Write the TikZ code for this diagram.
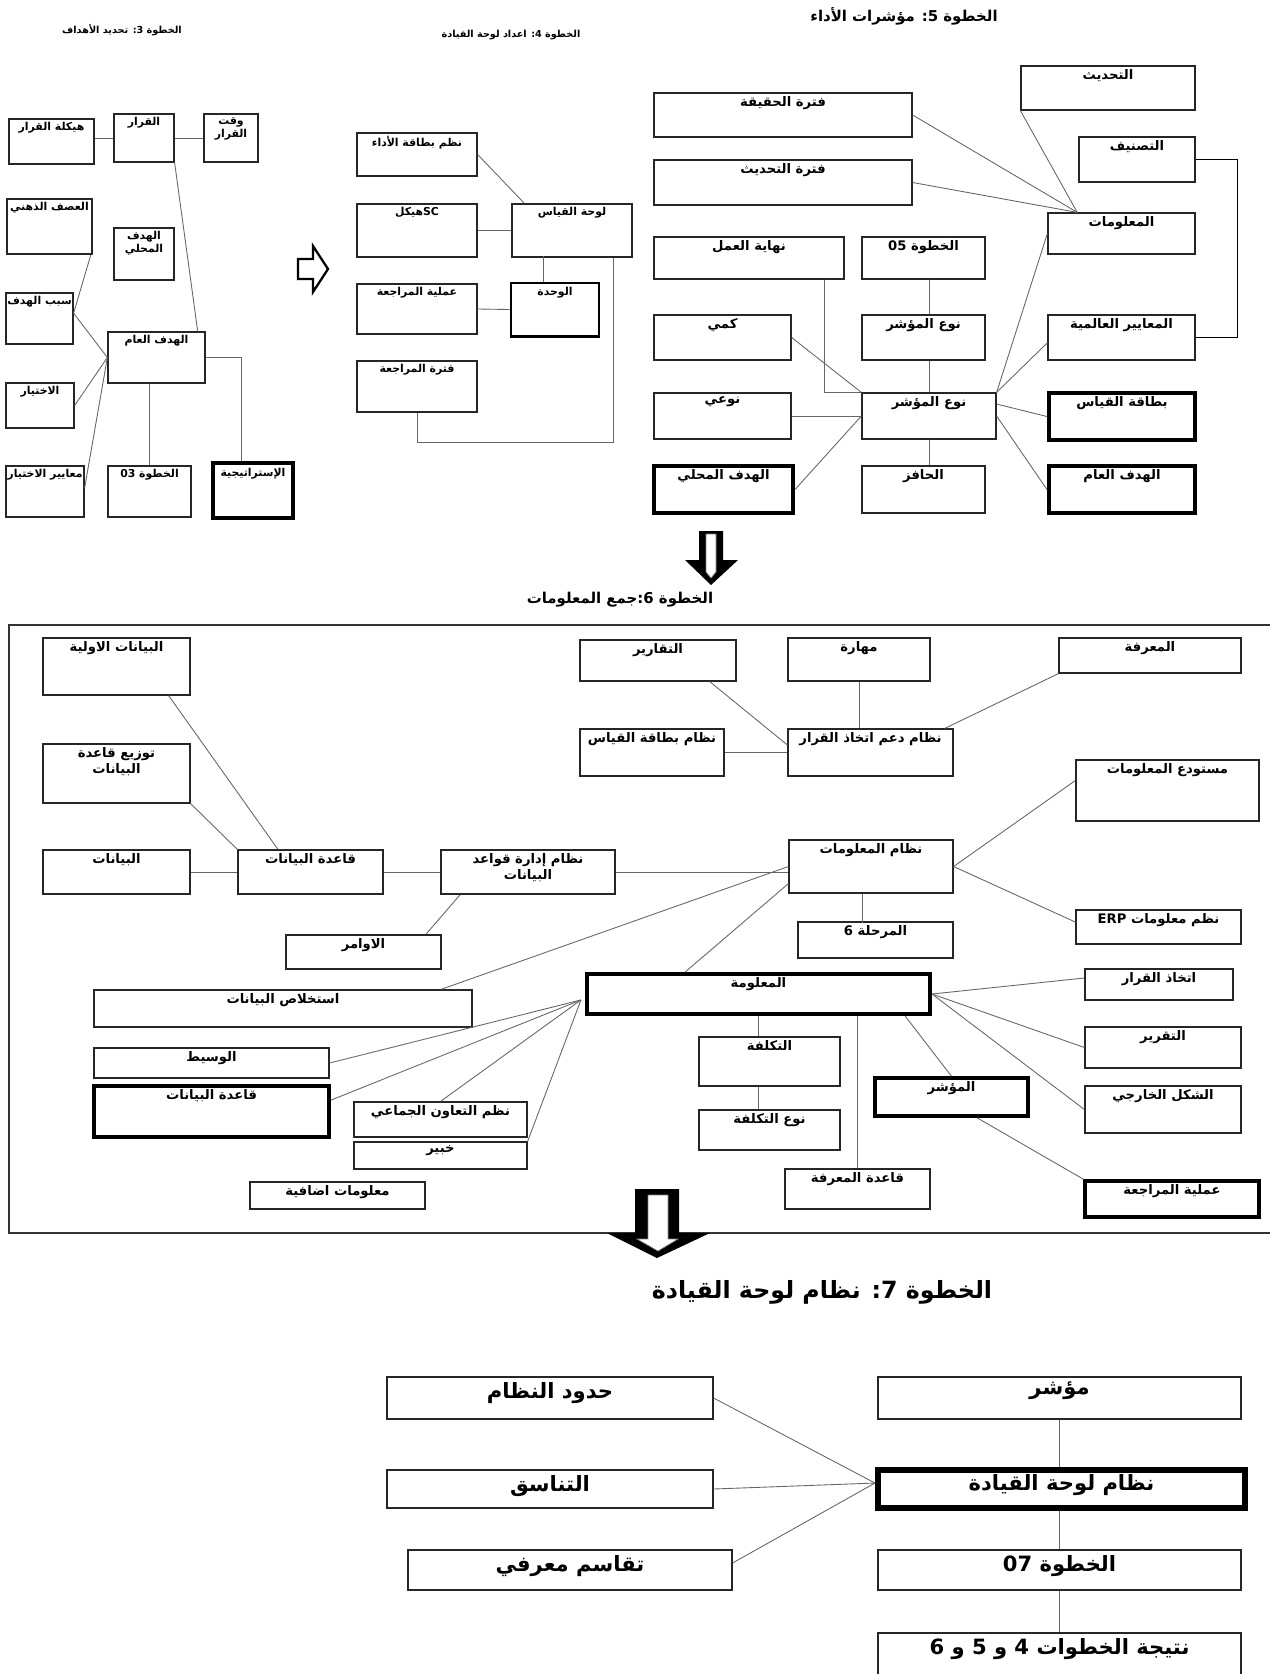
\documentclass[tikz,border=0pt]{standalone}
\usepackage{fontspec}
\newfontfamily\arabicfont[Script=Arabic]{DejaVu Sans}
\TeXXeTstate=1
\usetikzlibrary{fit}
\tikzset{
    box/.style = {draw=black!85, line width=0.7pt, inner sep=0pt},
    heavy/.style = {draw=black, line width=#1, inner sep=0pt},
    lbl/.style = {anchor=north, inner sep=2pt, align=center, font=\arabicfont\bfseries\fontsize{7.5}{9.5}\selectfont},
    lbs/.style = {lbl, font=\arabicfont\bfseries\fontsize{6.2}{7.5}\selectfont},
    lbb/.style = {lbl, inner sep=3pt, font=\arabicfont\bfseries\fontsize{12}{14}\selectfont},
    link/.style = {draw=black!60, line width=0.5pt},
    title/.style = {font=\arabicfont\bfseries\fontsize{#1}{#1}\selectfont},
}
\begin{document}
\begin{tikzpicture}[x=0.02cm, y=-0.02cm]
    \useasboundingbox (0,0) rectangle (1270,1674);

    \node[title=5.5] (t3) at (122,30) {\beginR الخطوة 3: تحديد الأهداف\endR};
    \node[box, fit={(9,119) (94,164)}, label={[lbs]north:{\beginR هيكلة القرار\endR}}] (hq) {};
    \node[box, fit={(114,114) (174,162)}, label={[lbs]north:{\beginR القرار\endR}}] (qr) {};
    \node[box, fit={(204,114) (258,162)}, label={[lbs]north:{\beginR وقت\endR\\\beginR القرار\endR}}] (wq) {};
    \node[box, fit={(7,199) (92,254)}, label={[lbs]north:{\beginR العصف الذهني\endR}}] (ad) {};
    \node[box, fit={(114,228) (174,280)}, label={[lbs]north:{\beginR الهدف\endR\\\beginR المحلي\endR}}] (hm3) {};
    \node[box, fit={(6,293) (73,344)}, label={[lbs]north:{\beginR سبب الهدف\endR}}] (sh) {};
    \node[box, fit={(108,332) (205,383)}, label={[lbs]north:{\beginR الهدف العام\endR}}] (ha3) {};
    \node[box, fit={(6,383) (74,428)}, label={[lbs]north:{\beginR الاختيار\endR}}] (ik) {};
    \node[box, fit={(6,466) (84,517)}, label={[lbs]north:{\beginR معايير الاختيار\endR}}] (mk) {};
    \node[box, fit={(108,466) (191,517)}, label={[lbs]north:{\beginR الخطوة 03\endR}}] (k03) {};
    \node[heavy=2.6pt, fit={(213,463) (293,518)}, label={[lbs, yshift=-2pt]north:{\beginR الإستراتيجية\endR}}] (st) {};

    \draw[link] (hq.east |- qr.west) -- (qr.west);
    \draw[link] (qr.east) -- (wq.west);
    \draw[link] (qr.south east) -- ([xshift=-4.5pt]ha3.north east);
    \draw[link] ([xshift=-1pt]ad.south east) -- ([yshift=3pt]sh.east);
    \draw[link] ([yshift=3pt]sh.east) -- (ha3.west);
    \draw[link] (ik.east) -- (ha3.west);
    \draw[link] ([yshift=2pt]mk.east) -- (ha3.west);
    \draw[link] (ha3.south -| k03.north) -- (k03.north);
    \draw[link] (ha3.east) -| ([xshift=-6.8pt]st.north);

    \draw[line width=1.3pt, fill=white] (298,259) -- (313,259) -- (313,246) -- (328,269) -- (313,292) -- (313,279) -- (298,279) -- cycle;

    \node[title=5.5] (t4) at (511,35) {\beginR الخطوة 4: اعداد لوحة القيادة\endR};
    \node[box, fit={(357,133) (477,176)}, label={[lbs]north:{\beginR نظم بطاقة الأداء\endR}}] (nb) {};
    \node[box, fit={(357,204) (477,257)}, label={[lbs]north:{\beginR\beginL SC\endL هيكل\endR}}] (hs) {};
    \node[box, fit={(512,204) (632,257)}, label={[lbs]north:{\beginR لوحة القياس\endR}}] (lq) {};
    \node[box, fit={(357,284) (477,334)}, label={[lbs]north:{\beginR عملية المراجعة\endR}}] (am) {};
    \node[heavy=1.7pt, fit={(511,283) (599,336)}, label={[lbs, yshift=-1pt]north:{\beginR الوحدة\endR}}] (wh) {};
    \node[box, fit={(357,361) (477,412)}, label={[lbs]north:{\beginR فترة المراجعة\endR}}] (fm) {};

    \draw[link] (nb.east) -- ([xshift=7.4pt]lq.north west);
    \draw[link] (hs.east) -- (lq.west);
    \draw[link] (am.east) -- (wh.west);
    \draw[link] ([xshift=-6.8pt]wh.north) -- ++(0,-26);
    \draw[link] (fm.south) -- ++(0,30) -| ([xshift=-10.8pt]lq.south east);

    \node[title=8.5] (t5) at (904,16) {\beginR الخطوة 5: مؤشرات الأداء\endR};
    \node[box, fit={(1021,66) (1195,110)}, label={[lbl]north:{\beginR التحديث\endR}}] (th) {};
    \node[box, fit={(654,93) (912,137)}, label={[lbl]north:{\beginR فترة الحقيقة\endR}}] (fh) {};
    \node[box, fit={(1079,137) (1195,182)}, label={[lbl]north:{\beginR التصنيف\endR}}] (ts) {};
    \node[box, fit={(654,160) (912,205)}, label={[lbl]north:{\beginR فترة التحديث\endR}}] (ft) {};
    \node[box, fit={(1048,213) (1195,254)}, label={[lbl]north:{\beginR المعلومات\endR}}] (ml) {};
    \node[box, fit={(654,237) (844,279)}, label={[lbl]north:{\beginR نهاية العمل\endR}}] (na) {};
    \node[box, fit={(862,237) (985,279)}, label={[lbl]north:{\beginR الخطوة 05\endR}}] (k05) {};
    \node[box, fit={(654,315) (791,360)}, label={[lbl]north:{\beginR كمي\endR}}] (km) {};
    \node[box, fit={(862,315) (985,360)}, label={[lbl]north:{\beginR نوع المؤشر\endR}}] (nm1) {};
    \node[box, fit={(1048,315) (1195,360)}, label={[lbl]north:{\beginR المعايير العالمية\endR}}] (ma) {};
    \node[box, fit={(654,393) (791,439)}, label={[lbl]north:{\beginR نوعي\endR}}] (nw) {};
    \node[box, fit={(862,393) (996,439)}, label={[lbl]north:{\beginR نوع المؤشر\endR}}] (nm) {};
    \node[heavy=2.3pt, fit={(1049,393) (1195,440)}, label={[lbl, yshift=-1pt]north:{\beginR بطاقة القياس\endR}}] (bq) {};
    \node[heavy=2.3pt, fit={(654,466) (793,513)}, label={[lbl, yshift=-1pt]north:{\beginR الهدف المحلي\endR}}] (hm5) {};
    \node[box, fit={(862,466) (985,513)}, label={[lbl]north:{\beginR الحافز\endR}}] (hz) {};
    \node[heavy=2.3pt, fit={(1049,466) (1195,513)}, label={[lbl, yshift=-1pt]north:{\beginR الهدف العام\endR}}] (ha5) {};

    \coordinate (mlp) at ([xshift=17pt]ml.north west);
    \draw[link] (fh.east) -- (mlp);
    \draw[link] (ft.east) -- (mlp);
    \draw[link] (th.south west) -- (mlp);
    \draw[line width=0.8pt] (ts.east) -- ++(42,0) |- (ma.east);
    \draw[link] (ml.west) -- (nm.north east);
    \draw[link] ([xshift=-11.3pt]na.south east) |- (nm.north west);
    \draw[link] (k05.south -| nm.north) -- (nm1.north -| nm.north);
    \draw[link] (nm1.south -| nm.north) -- (nm.north);
    \draw[link] (nm.south) -- (hz.north -| nm.south);
    \draw[link] (km.east) -- (nm.north west);
    \draw[link] (nw.east) -- (nm.west);
    \draw[link] (hm5.east) -- (nm.west);
    \draw[link] (nm.north east) -- ([yshift=-3pt]ma.west);
    \draw[link] ([yshift=6.8pt]nm.east) -- (bq.west);
    \draw[link] (nm.east) -- (ha5.west);

    \fill (699,531) -- (723,531) -- (723,560) -- (738,560) -- (711,585) -- (685,560) -- (699,560) -- cycle;
    \filldraw[fill=white, draw=black!50] (706,534) -- (716,534) -- (716,572) -- (711,578) -- (706,572) -- cycle;

    \node[title=8.5] (t6) at (620,600) {\beginR الخطوة 6:جمع المعلومات\endR};
    \draw[draw=black!80, line width=0.8pt] (1270,625) -- (9,625) -- (9,1233) -- (1270,1233);

    \node[box, fit={(43,638) (190,695)}, label={[lbl]north:{\beginR البيانات الاولية\endR}}] (bo) {};
    \node[box, fit={(580,640) (736,681)}, label={[lbl]north:{\beginR التقارير\endR}}] (tq) {};
    \node[box, fit={(788,638) (930,681)}, label={[lbl]north:{\beginR مهارة\endR}}] (mh) {};
    \node[box, fit={(1059,638) (1241,673)}, label={[lbl]north:{\beginR المعرفة\endR}}] (mr) {};
    \node[box, fit={(580,729) (724,776)}, label={[lbl]north:{\beginR نظام بطاقة القياس\endR}}] (nbq) {};
    \node[box, fit={(788,729) (953,776)}, label={[lbl]north:{\beginR نظام دعم اتخاذ القرار\endR}}] (nd) {};
    \node[box, fit={(43,744) (190,803)}, label={[lbl]north:{\beginR توزيع قاعدة\endR\\\beginR البيانات\endR}}] (tz) {};
    \node[box, fit={(1076,760) (1259,821)}, label={[lbl]north:{\beginR مستودع المعلومات\endR}}] (mm) {};
    \node[box, fit={(43,850) (190,894)}, label={[lbl]north:{\beginR البيانات\endR}}] (by) {};
    \node[box, fit={(238,850) (383,894)}, label={[lbl]north:{\beginR قاعدة البيانات\endR}}] (qb) {};
    \node[box, line width=1pt, fit={(441,850) (615,894)}, label={[lbl]north:{\beginR نظام إدارة قواعد\endR\\\beginR البيانات\endR}}] (nq) {};
    \node[box, fit={(789,840) (953,893)}, label={[lbl]north:{\beginR نظام المعلومات\endR}}] (nmt) {};
    \node[box, fit={(1076,910) (1241,944)}, label={[lbl]north:{\beginR نظم معلومات \beginL ERP\endL\endR}}] (erp) {};
    \node[box, line width=1pt, fit={(286,935) (441,969)}, label={[lbl]north:{\beginR الاوامر\endR}}] (aw) {};
    \node[box, fit={(798,922) (953,958)}, label={[lbl]north:{\beginR المرحلة 6\endR}}] (mr6) {};
    \node[heavy=2.3pt, fit={(587,974) (930,1014)}, label={[lbl, yshift=-1pt]north:{\beginR المعلومة\endR}}] (mt) {};
    \node[box, fit={(94,990) (472,1027)}, label={[lbl]north:{\beginR استخلاص البيانات\endR}}] (ist) {};
    \node[box, fit={(1085,969) (1233,1000)}, label={[lbl]north:{\beginR اتخاذ القرار\endR}}] (iq) {};
    \node[box, fit={(94,1048) (329,1078)}, label={[lbl]north:{\beginR الوسيط\endR}}] (ws) {};
    \node[box, fit={(699,1037) (840,1086)}, label={[lbl]north:{\beginR التكلفة\endR}}] (tk) {};
    \node[box, fit={(1085,1027) (1241,1068)}, label={[lbl]north:{\beginR التقرير\endR}}] (tr) {};
    \node[heavy=2.3pt, fit={(94,1086) (329,1137)}, label={[lbl, yshift=-1pt]north:{\beginR قاعدة البيانات\endR}}] (qb2) {};
    \node[heavy=2pt, fit={(875,1078) (1028,1116)}, label={[lbl, yshift=-1pt]north:{\beginR المؤشر\endR}}] (mo) {};
    \node[box, fit={(354,1102) (527,1137)}, label={[lbl]north:{\beginR نظم التعاون الجماعي\endR}}] (nt) {};
    \node[box, fit={(699,1110) (840,1150)}, label={[lbl]north:{\beginR نوع التكلفة\endR}}] (ntk) {};
    \node[box, fit={(1085,1086) (1241,1133)}, label={[lbl]north:{\beginR الشكل الخارجي\endR}}] (sk) {};
    \node[box, fit={(354,1142) (527,1169)}, label={[lbl]north:{\beginR خبير\endR}}] (kb) {};
    \node[box, fit={(250,1182) (425,1209)}, label={[lbl]north:{\beginR معلومات اضافية\endR}}] (mi) {};
    \node[box, fit={(785,1169) (930,1209)}, label={[lbl]north:{\beginR قاعدة المعرفة\endR}}] (qm) {};
    \node[heavy=2.3pt, fit={(1085,1181) (1259,1217)}, label={[lbl, yshift=-1pt]north:{\beginR عملية المراجعة\endR}}] (amr) {};

    \draw[link] ([xshift=-12.5pt]bo.south east) -- ([xshift=-18.5pt]qb.north);
    \draw[link] (tz.south east) -- (qb.north west);
    \draw[link] (by.east) -- (qb.west);
    \draw[link] (qb.east) -- (nq.west);
    \draw[link] (nq.east) -- (nq.east -| nmt.west);
    \draw[link] ([xshift=11.3pt]nq.south west) -- ([xshift=-9pt]aw.north east);
    \draw[link] (nmt.west) -- ([xshift=-18pt]ist.north east);
    \draw[link] ([yshift=5.7pt]nmt.south west) -- ([xshift=-41.7pt]mt.north);
    \draw[link] (nmt.east) -- ([yshift=5.7pt]mm.west);
    \draw[link] (nmt.east) -- ([yshift=2.8pt]erp.west);
    \draw[link] ([xshift=-5pt]nmt.south) -- ++(0,29);
    \draw[link] ([xshift=-15.3pt]tq.south east) -- ([yshift=4.3pt]nd.west);
    \draw[link] (mh.south) -- (mh.south |- nd.north);
    \draw[link] (mr.south west) -- ([xshift=-5pt]nd.north east);
    \draw[link] (nbq.east) -- (nd.west);

    \coordinate (mtp) at ([xshift=-2.3pt, yshift=-3.4pt]mt.west);
    \draw[link] (ws.east) -- (mtp);
    \draw[link] ([yshift=6.5pt]qb2.east) -- (mtp);
    \draw[link] (nt.north) -- (mtp);
    \draw[link] (kb.north east) -- (mtp);
    \draw[link] (mt.south) -- (mt.south |- tk.north);
    \draw[link] (tk.south -| mt.south) -- (ntk.north -| mt.south);
    \draw[link] (qm.north |- mt.south) -- (qm.north);
    \draw[link] ([xshift=-15.3pt]mt.south east) -- (mo.north);
    \draw[link] ([xshift=14.5pt]mo.south) -- (amr.north west);
    \draw[link] (mt.east) -- ([yshift=3.7pt]iq.west);
    \draw[link] (mt.east) -- (tr.west);
    \draw[link] (mt.east) -- (sk.west);

    \fill (635,1189) -- (679,1189) -- (679,1233) -- (710,1233) -- (657,1258) -- (607,1233) -- (635,1233) -- cycle;
    \filldraw[fill=white, draw=black!50] (648,1195) -- (668,1195) -- (668,1239) -- (678,1239) -- (658,1251) -- (637,1239) -- (648,1239) -- cycle;

    \node[title=13.5] (t7) at (822,1292) {\beginR الخطوة 7: نظام لوحة القيادة\endR};
    \node[box, fit={(387,1377) (713,1419)}, label={[lbb]north:{\beginR حدود النظام\endR}}] (hn) {};
    \node[box, fit={(878,1377) (1241,1419)}, label={[lbb]north:{\beginR مؤشر\endR}}] (mo7) {};
    \node[box, fit={(387,1470) (713,1508)}, label={[lbb]north:{\beginR التناسق\endR}}] (tn) {};
    \node[heavy=3.4pt, fit={(878,1470) (1245,1508)}, label={[lbb, yshift=-1pt]north:{\beginR نظام لوحة القيادة\endR}}] (nl) {};
    \node[box, fit={(408,1550) (732,1590)}, label={[lbb]north:{\beginR تقاسم معرفي\endR}}] (tm) {};
    \node[box, fit={(878,1550) (1241,1590)}, label={[lbb]north:{\beginR الخطوة 07\endR}}] (k07) {};
    \node[box, fit={(878,1633) (1241,1700)}, label={[lbb]north:{\beginR نتيجة الخطوات 4 و 5 و 6\endR}}] (nt7) {};

    \coordinate (nlp) at ([yshift=3.4pt]nl.west);
    \draw[link] (hn.east) -- (nlp);
    \draw[link] (tn.east) -- (nlp);
    \draw[link] ([yshift=4pt]tm.east) -- (nlp);
    \draw[link] (mo7.south) -- (mo7.south |- nl.north);
    \draw[link] (nl.south -| mo7.south) -- (k07.north);
    \draw[link] (k07.south) -- (nt7.north);
\end{tikzpicture}
\end{document}
